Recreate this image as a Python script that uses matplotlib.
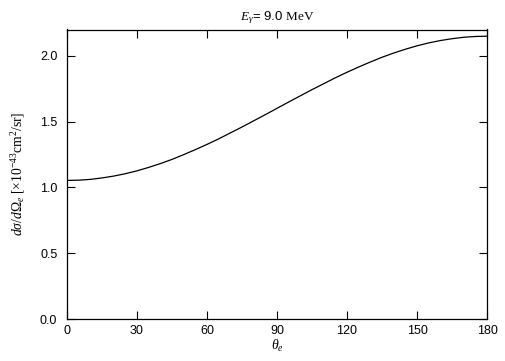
import matplotlib
matplotlib.use("Agg")
import matplotlib.pyplot as plt

theta = list(range(0, 181, 5))
dsigma = [1.053, 1.055, 1.061, 1.072, 1.086, 1.104, 1.126, 1.152, 1.181, 1.213,
          1.249, 1.287, 1.327, 1.369, 1.414, 1.459, 1.506, 1.553, 1.601, 1.649,
          1.696, 1.743, 1.788, 1.833, 1.875, 1.915, 1.953, 1.989, 2.021, 2.050,
          2.076, 2.098, 2.116, 2.130, 2.141, 2.147, 2.149]
xticks = [0, 30, 60, 90, 120, 150, 180]
yticks = [0.0, 0.5, 1.0, 1.5, 2.0]

plt.rcParams['mathtext.fontset'] = 'custom'
plt.rcParams['mathtext.rm'] = 'Liberation Serif'
plt.rcParams['mathtext.it'] = 'Liberation Serif:italic'
plt.rcParams['mathtext.bf'] = 'Liberation Serif:bold'
plt.rcParams['mathtext.sf'] = 'Liberation Sans'

fig = plt.figure(figsize=(5.05, 3.61), dpi=100)
ax = fig.add_axes([67/505, 1-319/361, 420/505, (319-29.5)/361])
ax.plot(theta, dsigma, color='black', lw=0.9)
ax.set_xlim(0, 180)
ax.set_ylim(0, 2.2)
ax.set_xticks(xticks)
ax.set_xticklabels([str(t) for t in xticks], family='Liberation Sans', fontsize=9)
ax.set_yticks(yticks)
ax.set_yticklabels([f"{t:.1f}" for t in yticks], family='Liberation Sans', fontsize=9)
ax.tick_params(direction='in', top=True, right=True, length=6, width=0.8, pad=4)
ax.tick_params(axis='y', pad=7)
for s in ax.spines.values():
    s.set_linewidth(0.9)
ax.set_title(r'$E_{\gamma}$= 9.0 $\mathrm{MeV}$', family='Liberation Sans', fontsize=9.5, pad=7)
ax.set_xlabel(r'$\theta_e$', fontsize=10, labelpad=1)
ax.set_ylabel(r'$d\sigma/d\Omega_e\ [\times10^{-43}\mathrm{cm^2/sr}]$', fontsize=9.8, labelpad=9)
fig.savefig('out.png', dpi=100)
